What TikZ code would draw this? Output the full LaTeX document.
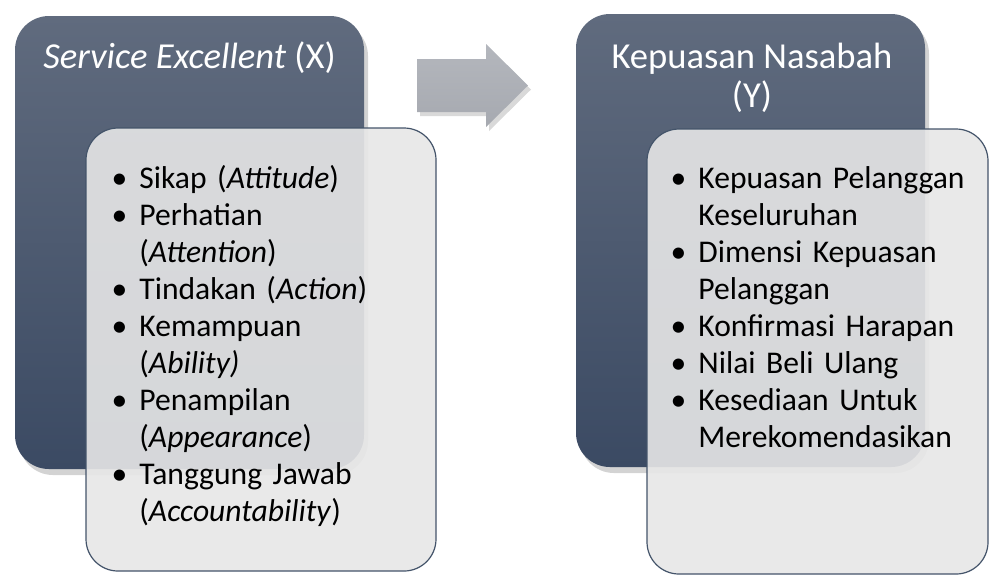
\documentclass[tikz,border=0pt]{standalone}
\usepackage{fontspec}
\setmainfont{Carlito}
\usepackage{enumitem}
\usepackage{tikz}
\usetikzlibrary{shadows, positioning}

\definecolor{slatetop}{HTML}{606B7E}
\definecolor{slatebot}{HTML}{3B4A63}
\definecolor{paleback}{HTML}{E7E7E7}
\definecolor{paleedge}{HTML}{44546A}
\definecolor{arrowtop}{HTML}{B4B7BD}
\definecolor{arrowbot}{HTML}{A6A9B0}

\newlist{pointlist}{itemize}{1}
\setlist[pointlist]{label=\textbullet, leftmargin=13.5pt, labelsep=6pt, nosep}

\begin{document}
\begin{tikzpicture}[x=0.5pt, y=-0.5pt,
    dark_box/.style={rectangle, rounded corners=17pt, top color=slatetop, bottom color=slatebot, minimum width=174.5pt, minimum height=226.5pt, drop shadow={shadow xshift=2pt, shadow yshift=-3pt, opacity=0.35}},
    light_box/.style={rectangle, rounded corners=16pt, draw=paleedge, line width=0.6pt, fill=paleback, fill opacity=0.9},
    arrow_style/.style={top color=arrowtop, bottom color=arrowbot, drop shadow={shadow xshift=1.5pt, shadow yshift=-2pt, opacity=0.3}},
    title_text/.style={text=white, inner sep=0pt, font=\fontsize{18.3}{19.5}\selectfont},
    list_text/.style={text=black, inner sep=0pt, text width=150pt, align=left, font=\fontsize{15.8}{18.5}\selectfont}
]

\useasboundingbox (0,0) rectangle (989,575);

% Left group
\node[dark_box] (dark_x) at (189.5,242.5) {};
\node[light_box, minimum width=175pt, minimum height=221.5pt] (light_x) at (261,349.5) {};

% Arrow between groups
\path[arrow_style] (417,59) -- (486,59) -- (486,44) -- (528,85.5) -- (486,127) -- (486,112) -- (417,112) -- cycle;

% Right group
\node[dark_box] (dark_y) at (750.5,240.5) {};
\node[light_box, minimum width=170.5pt, minimum height=222.5pt] (light_y) at (817.5,351.5) {};

% Titles
\node[title_text] (title_x) at (189.5,58) {\textit{Service Excellent} (X)};
\node[title_text, align=center] (title_y) at (752,77.5) {Kepuasan Nasabah\\(Y)};

% Indicator lists
\node[list_text, anchor=north west] (list_x) at (112,151) {%
\begin{pointlist}
\item Sikap (\textit{Attitude})
\item Perhatian\newline(\textit{Attention})
\item Tindakan (\textit{Action})
\item Kemampuan\newline(\textit{Ability)}
\item Penampilan\newline(\textit{Appearance})
\item Tanggung Jawab\newline(\textit{Accountability})
\end{pointlist}};

\node[list_text, anchor=north west, text width=155pt] (list_y) at (671,151) {%
\begin{pointlist}
\item Kepuasan Pelanggan\newline Keseluruhan
\item Dimensi Kepuasan\newline Pelanggan
\item Konfirmasi Harapan
\item Nilai Beli Ulang
\item Kesediaan Untuk\newline Merekomendasikan
\end{pointlist}};

\end{tikzpicture}
\end{document}
